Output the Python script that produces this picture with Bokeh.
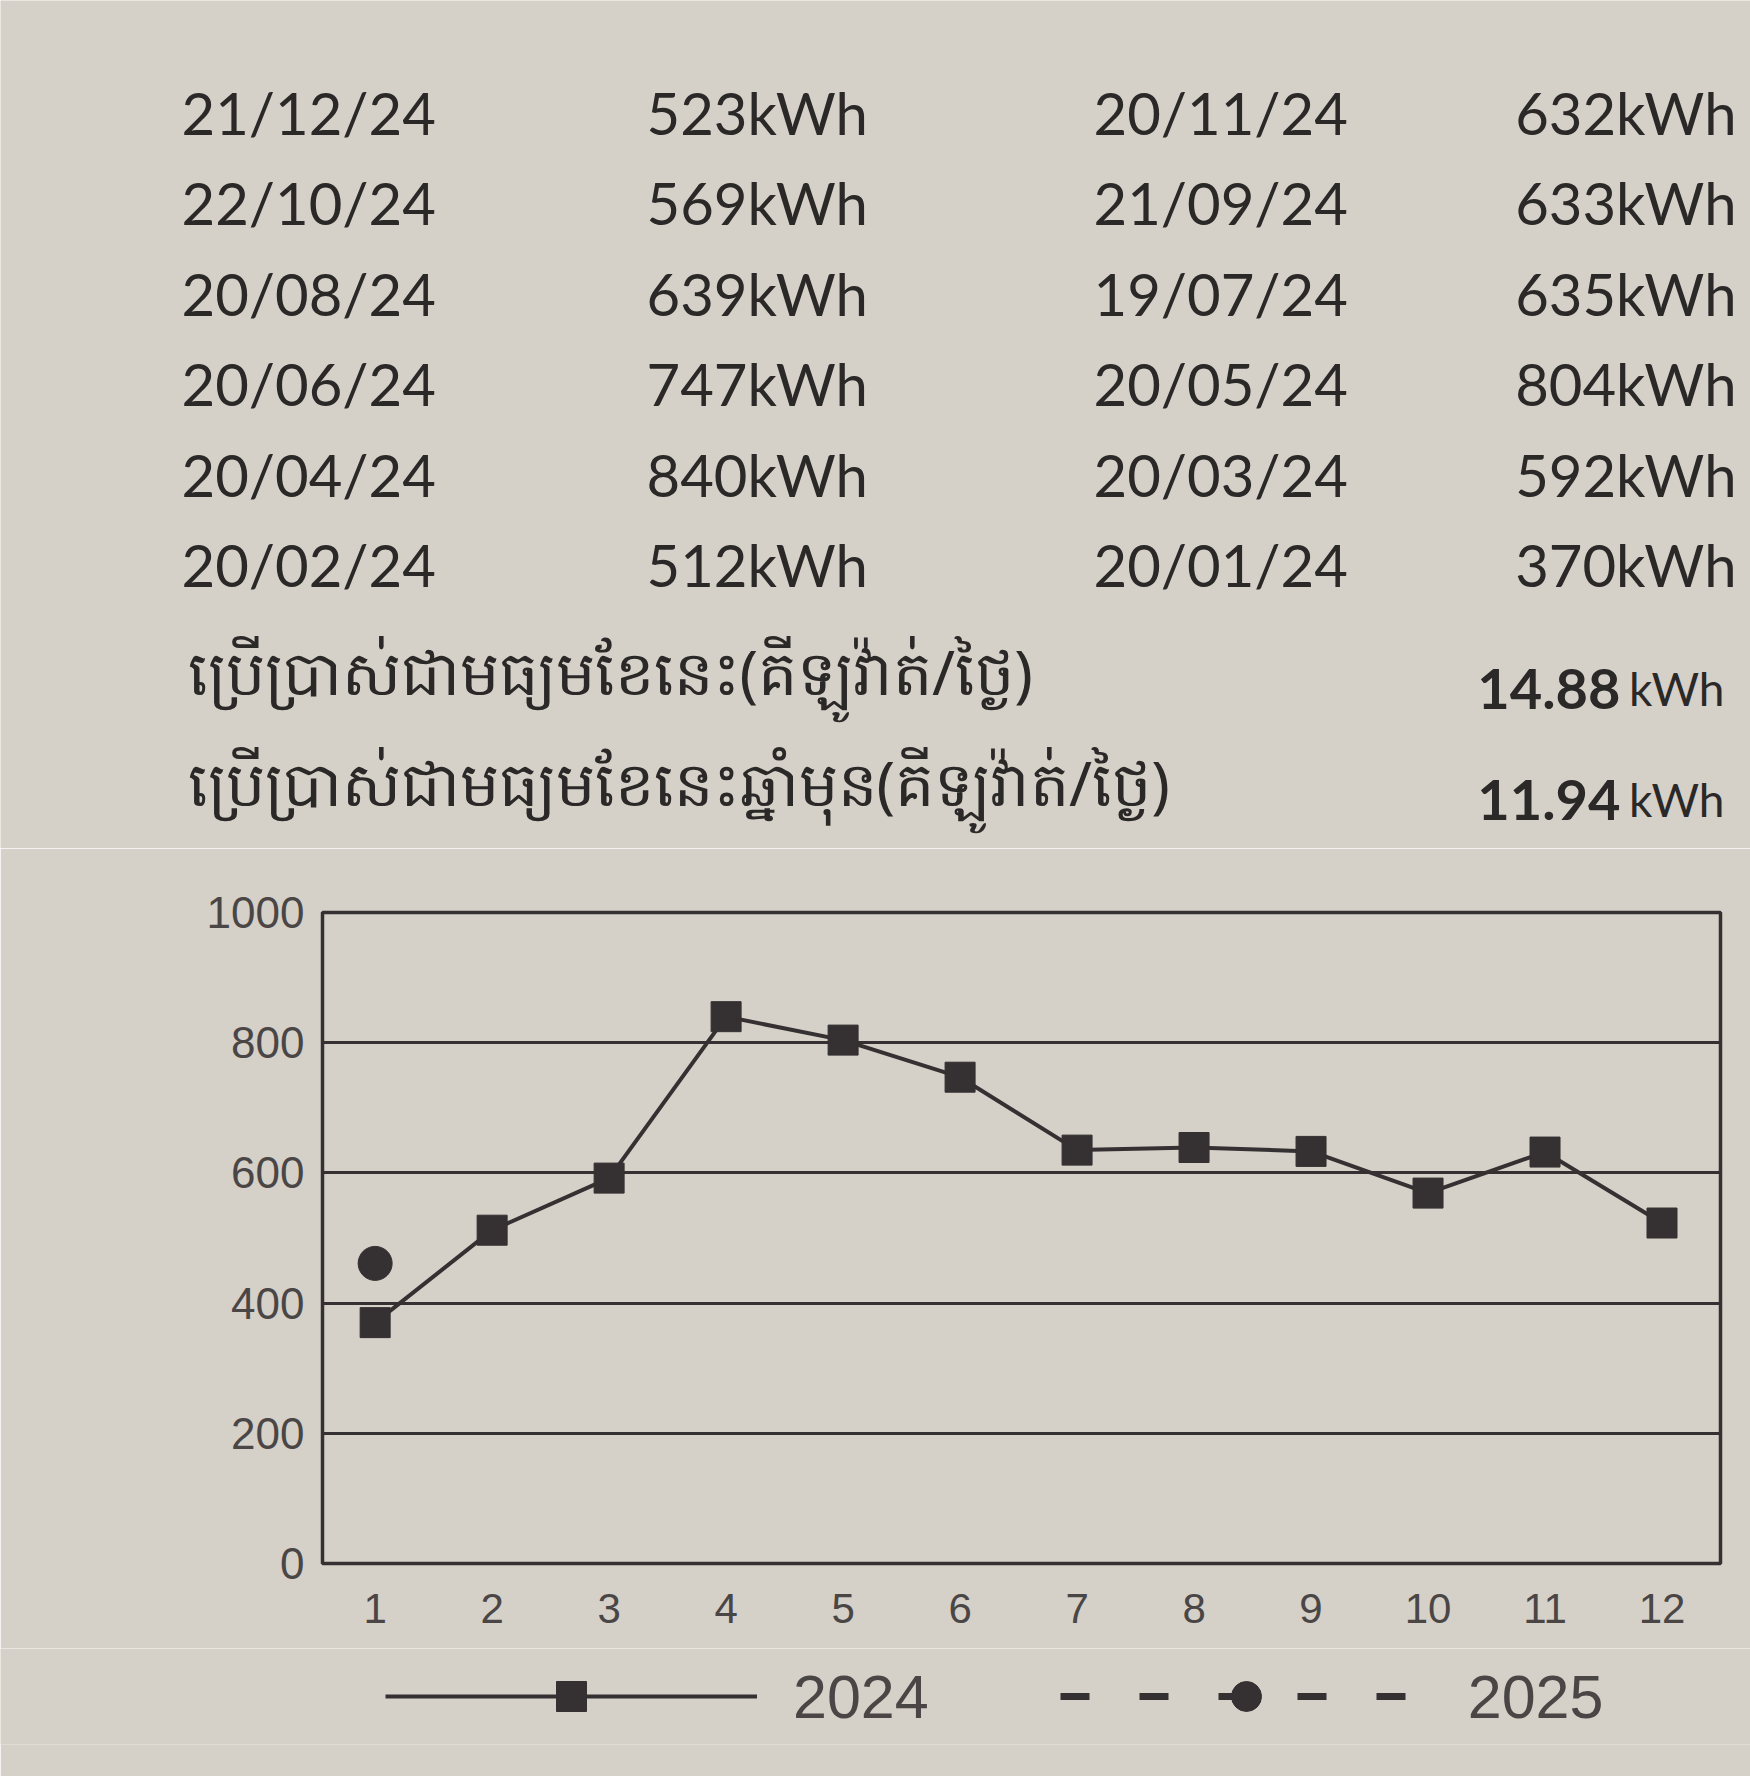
from bokeh.plotting import figure
from bokeh.models import Legend, LegendItem, FixedTicker, Range1d
from bokeh.embed import file_html
from bokeh.resources import INLINE
from bokeh.core.properties import value

# ---------------- data ----------------
months = [1, 2, 3, 4, 5, 6, 7, 8, 9, 10, 11, 12]
reading_dates = ["20/01/24", "20/02/24", "20/03/24", "20/04/24", "20/05/24", "20/06/24",
                 "19/07/24", "20/08/24", "21/09/24", "22/10/24", "20/11/24", "21/12/24"]
kwh_2024 = [370, 512, 592, 840, 804, 747, 635, 639, 633, 569, 632, 523]
months_2025 = [1]
kwh_2025 = [461]
avg_labels = ["ប្រើប្រាស់ជាមធ្យមខែនេះ(គីឡូវ៉ាត់/ថ្ងៃ)",
              "ប្រើប្រាស់ជាមធ្យមខែនេះឆ្នាំមុន(គីឡូវ៉ាត់/ថ្ងៃ)"]
avg_values = ["14.88", "11.94"]
unit = "kWh"
y_ticks = [0, 200, 400, 600, 800, 1000]
series_labels = ["2024", "2025"]

# ---------------- style ----------------
PAPER = "#d5d0c8"
INK = "#2b2828"
LINE = "#353132"
AXIS_TXT = "#4a4646"
W = 1750
TOP_H = 848
CHART_H = 800
LEG_H = 128

def base_fig(**kw):
    f = figure(output_backend="svg", toolbar_location=None, **kw)
    f.background_fill_color = PAPER
    f.border_fill_color = PAPER
    return f

# ---------------- top (table + averages) ----------------
top = base_fig(width=W, height=TOP_H, x_range=Range1d(0, W), y_range=Range1d(TOP_H, 0),
               min_border=0, x_axis_location=None, y_axis_location=None)
top.grid.visible = False
top.outline_line_color = None

order = list(range(11, -1, -1))
left_idx = order[0::2]
right_idx = order[1::2]
row_y = [112 + r * 90.4 for r in range(6)]

common = dict(text_font=value("Lato"), text_font_size="58px", text_baseline="middle",
              text_color=INK)
top.text(x=[181] * 6, y=row_y, text=[reading_dates[i] for i in left_idx],
         text_align="left", **common)
top.text(x=[646] * 6, y=row_y, text=[f"{kwh_2024[i]}{unit}" for i in left_idx],
         text_align="left", **common)
top.text(x=[1093] * 6, y=row_y, text=[reading_dates[i] for i in right_idx],
         text_align="left", **common)
top.text(x=[1736] * 6, y=row_y, text=[f"{kwh_2024[i]}{unit}" for i in right_idx],
         text_align="right", **common)

avg_y = [670, 781]
avg_base = [688, 799]
top.text(x=[187, 187], y=avg_y, text=avg_labels, text_align="left",
         text_font=value("Noto Sans"), text_font_size="62px", text_baseline="middle",
         text_color=INK)
top.text(x=[1620, 1620], y=avg_base, text=avg_values, text_align="right",
         text_font=value("Lato"), text_font_style="bold", text_font_size="56px",
         text_baseline="alphabetic", text_color=INK)
top.text(x=[1724, 1724], y=avg_base, text=[unit, unit], text_align="right",
         text_font=value("Lato"), text_font_size="46px",
         text_baseline="alphabetic", text_color=INK)

# ---------------- chart ----------------
p = base_fig(width=W, height=CHART_H, x_range=Range1d(0.55, 12.5), y_range=Range1d(0, 1000),
             min_border_left=322, min_border_right=30, min_border_top=64,
             min_border_bottom=85)
p.outline_line_color = LINE
p.outline_line_width = 3.5
p.outline_line_alpha = 1.0
p.xgrid.visible = False
p.ygrid.ticker = FixedTicker(ticks=y_ticks)
p.ygrid.grid_line_color = LINE
p.ygrid.grid_line_width = 3

p.yaxis.ticker = FixedTicker(ticks=y_ticks)
p.xaxis.ticker = FixedTicker(ticks=months)
for ax in (p.xaxis, p.yaxis):
    ax.axis_line_color = None
    ax.major_tick_line_color = None
    ax.minor_tick_line_color = None
    ax.major_label_text_font = "Liberation Sans"
    ax.major_label_text_color = AXIS_TXT
p.yaxis.major_label_text_font_size = "44px"
p.xaxis.major_label_text_font_size = "42px"
p.yaxis.major_label_standoff = 12
p.xaxis.major_label_standoff = 24

style_2024 = dict(line=dict(line_width=4, line_color=LINE),
                  marker=dict(marker="square", size=30, fill_color=LINE, line_color=LINE))
style_2025 = dict(line=dict(line_width=7, line_color=LINE, line_dash="29 50"),
                  marker=dict(marker="circle", size=34, fill_color=LINE, line_color=LINE))

p.line(months, kwh_2024, **style_2024["line"])
p.scatter(months, kwh_2024, **style_2024["marker"])
p.line(months_2025, kwh_2025, **style_2025["line"])
p.scatter(months_2025, kwh_2025, **style_2025["marker"])

# ---------------- legend strip ----------------
lg = base_fig(width=W, height=LEG_H, x_range=Range1d(0, 1), y_range=Range1d(0, 1),
              min_border=0, min_border_bottom=32,
              x_axis_location=None, y_axis_location=None)
lg.grid.visible = False
lg.outline_line_color = None
items = []
for name, st in zip(series_labels, [style_2024, style_2025]):
    # legend swatches only: a single sample placed outside the visible range
    r_line = lg.line(x=[-5, -4], y=[-5, -4], **st["line"])
    r_mark = lg.scatter(x=[-5], y=[-5], **st["marker"])
    items.append(LegendItem(label=name, renderers=[r_line, r_mark]))

legend = Legend(items=items, orientation="horizontal", location="center_left",
                glyph_width=372, glyph_height=75, label_standoff=36, spacing=131,
                label_text_font="Liberation Sans", label_text_font_size="61px",
                label_text_color=AXIS_TXT, padding=0, margin=385,
                background_fill_alpha=0, border_line_alpha=0)
lg.add_layout(legend)

open("out.html", "w").write(file_html([top, p, lg], INLINE))
